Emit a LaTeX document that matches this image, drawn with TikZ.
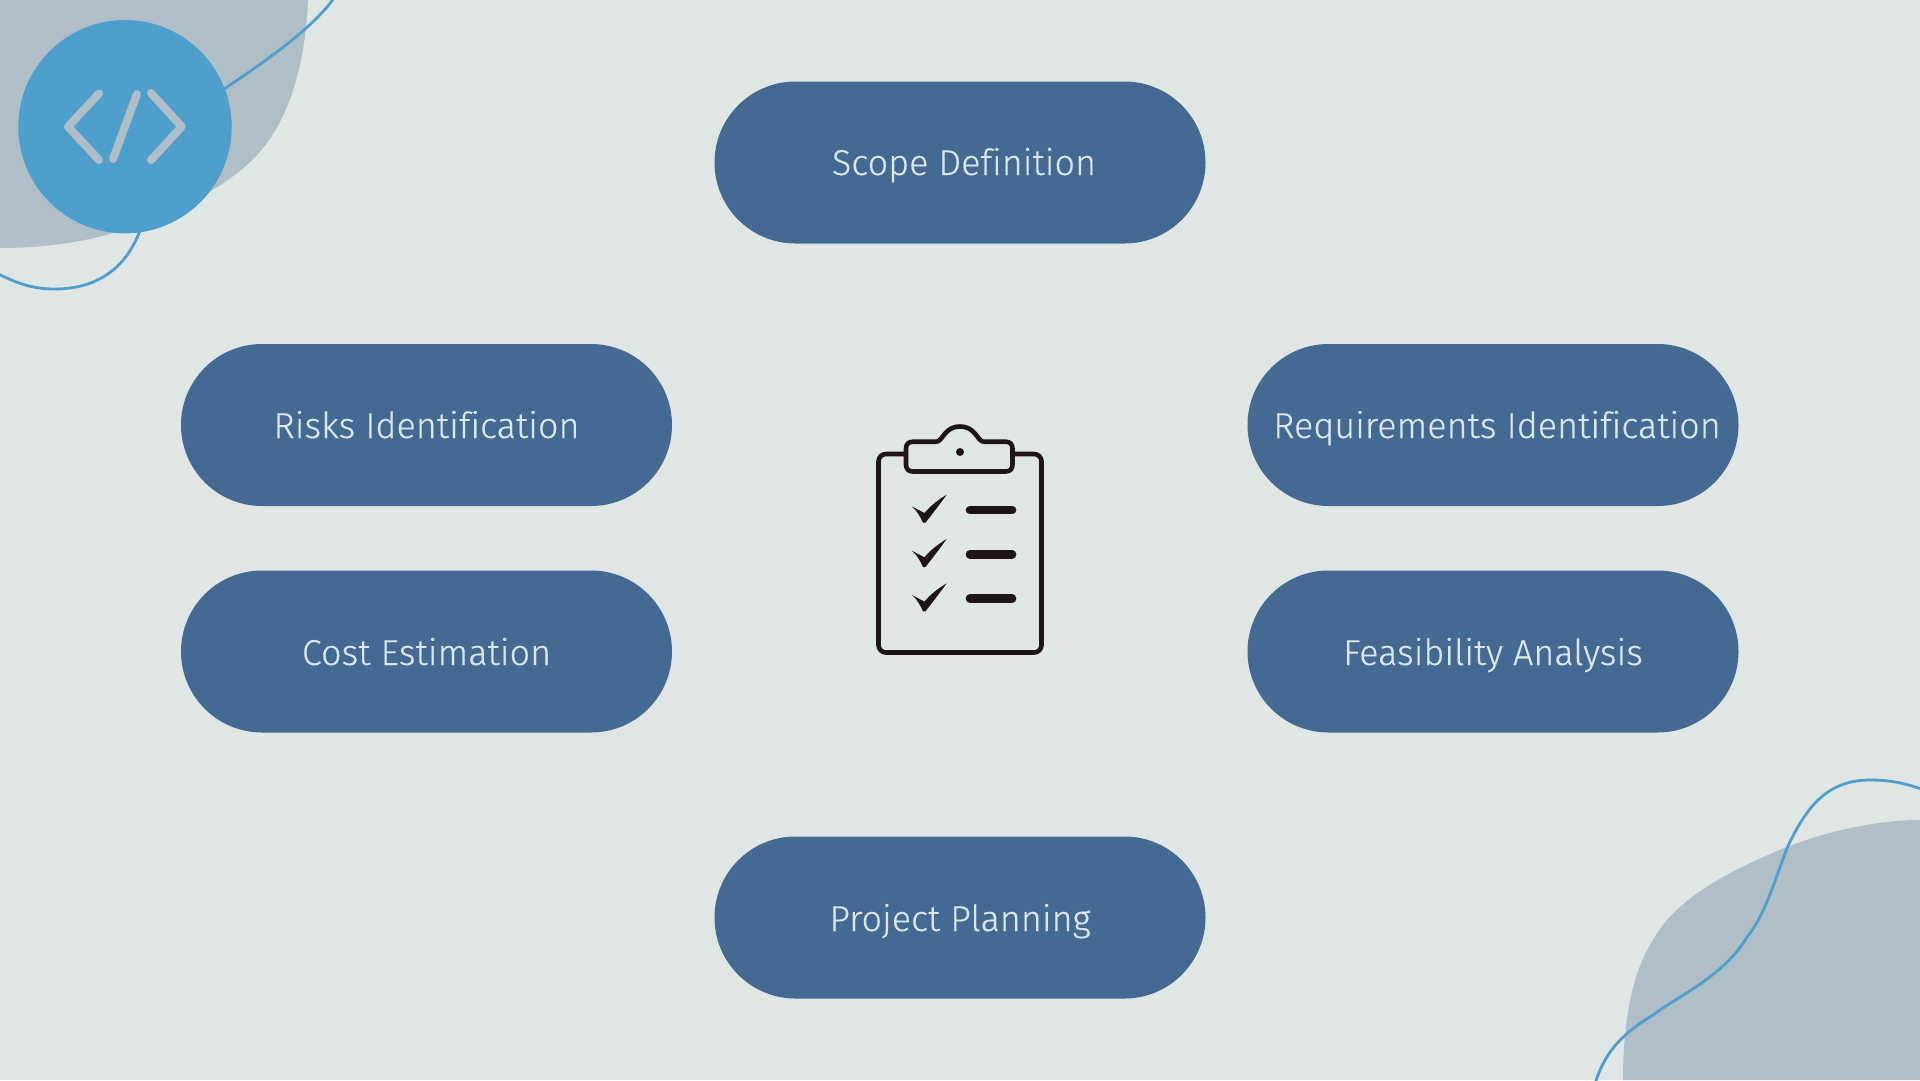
\documentclass[tikz,border=0pt]{standalone}
\usepackage{fontspec}
\setmainfont[Ligatures=CommonOff,RawFeature={embolden=0.3}]{Fira Sans Light}
\usetikzlibrary{shapes.misc}
\definecolor{bgc}{HTML}{E0E6E3}
\definecolor{blob}{HTML}{B0BFC7}
\definecolor{pill}{HTML}{446A94}
\definecolor{sky}{HTML}{4F9FCD}
\definecolor{txt}{HTML}{DCE7EA}
\definecolor{ink}{HTML}{1F1516}
\tikzset{
  pillbox/.style={rounded rectangle,fill=pill,minimum width=491pt,minimum height=162pt,inner sep=0pt},
  pilltext/.style={text=txt,font=\fontsize{36}{42}\selectfont,inner sep=0pt,anchor=base},
  wave/.style={draw=sky,line width=2.8pt},
  codeicon/.style={draw=blob,line width=8pt,line cap=round,line join=round},
  board/.style={draw=ink,line width=4.6pt,line join=round},
  tick/.style={fill=ink},
  bar/.style={draw=ink,line width=8.7pt,line cap=round}
}
\begin{document}
\begin{tikzpicture}[x=1pt,y=-1pt]
\useasboundingbox (0,0) rectangle (1920,1080);
\clip (0,0) rectangle (1920,1080);
\fill[bgc] (0,0) rectangle (1920,1080);
% blobs
\fill[blob] (0,0) -- (308,0) .. controls (306,50) and (295,105) .. (267,143) .. controls (240,180) and (185,210) .. (113,233) .. controls (80,243) and (40,248) .. (0,248) -- cycle;
\fill[blob] (1920,1080) -- (1623,1080) .. controls (1623,1030) and (1630,975) .. (1653,940) .. controls (1675,900) and (1725,872) .. (1787,847) .. controls (1830,830) and (1880,820) .. (1920,820) -- cycle;
% waves
\draw[wave] (334,-2) .. controls (315,25) and (275,55) .. (227,87) -- (180,118);
\draw[wave] (144,218) .. controls (130,270) and (95,289) .. (55,289) .. controls (30,289) and (15,282) .. (-4,273);
\draw[wave] (1924,790) .. controls (1905,783) and (1890,780) .. (1870,780) .. controls (1825,780) and (1805,810) .. (1787,848) .. controls (1775,880) and (1765,915) .. (1747,937) .. controls (1725,975) and (1680,995) .. (1653,1015) .. controls (1625,1032) and (1605,1050) .. (1595,1084);
% logo
\node[circle,fill=sky,minimum size=213.4pt,inner sep=0pt] (logo) at (125,126.7) {};
\draw[codeicon] (99,93.5) -- (68,126.7) -- (99,160);
\draw[codeicon] (137,94) -- (113,159);
\draw[codeicon] (151,93) -- (181.7,126.7) -- (151,160);
% pills
\node[pillbox] (scope) at (960,162.5) {};
\node[pillbox] (risks) at (426.5,425) {};
\node[pillbox] (reqs) at (1493,425) {};
\node[pillbox] (cost) at (426.5,651.5) {};
\node[pillbox] (feas) at (1493,651.5) {};
\node[pillbox] (plan) at (960,917.5) {};
\node[pilltext] (scopet) at (964,175) {Scope Definition};
\node[pilltext] (riskst) at (426.5,438) {Risks Identification};
\node[pilltext] (reqst) at (1497,438) {Requirements Identification};
\node[pilltext] (costt) at (426.5,665) {Cost Estimation};
\node[pilltext] (feast) at (1493,665) {Feasibility Analysis};
\node[pilltext] (plant) at (960,931) {Project Planning};
% clipboard
\draw[board,rounded corners=7.5pt] (906,454) -- (878.5,454) -- (878.5,652.5) -- (1041.5,652.5) -- (1041.5,454) -- (1012.5,454);
\draw[board] (913,441.7) -- (936,441.7) .. controls (943,441.7) and (944,426.5) .. (960,426.5) .. controls (976,426.5) and (977,441.7) .. (984,441.7) -- (1005.5,441.7) .. controls (1010,441.7) and (1012.5,444.2) .. (1012.5,448.7) -- (1012.5,464.5) .. controls (1012.5,469) and (1010,471.5) .. (1005.5,471.5) -- (913,471.5) .. controls (908.5,471.5) and (906,469) .. (906,464.5) -- (906,448.7) .. controls (906,444.2) and (908.5,441.7) .. (913,441.7) -- cycle;
\fill[ink] (960,452) circle[radius=4];
\foreach \d in {0,44.3,88.6}{
  \fill[tick,shift={(0,\d)}] (912,506.5) -- (924.5,513) .. controls (930,506) and (938,500) .. (946.7,494.7) .. controls (940,504) and (933,513) .. (925.5,522.7) -- (923,522.7) .. controls (920,516) and (917,511) .. (912,506.5) -- cycle;
  \draw[bar] (970,510+\d) -- (1012,510+\d);
}
\end{tikzpicture}
\end{document}
